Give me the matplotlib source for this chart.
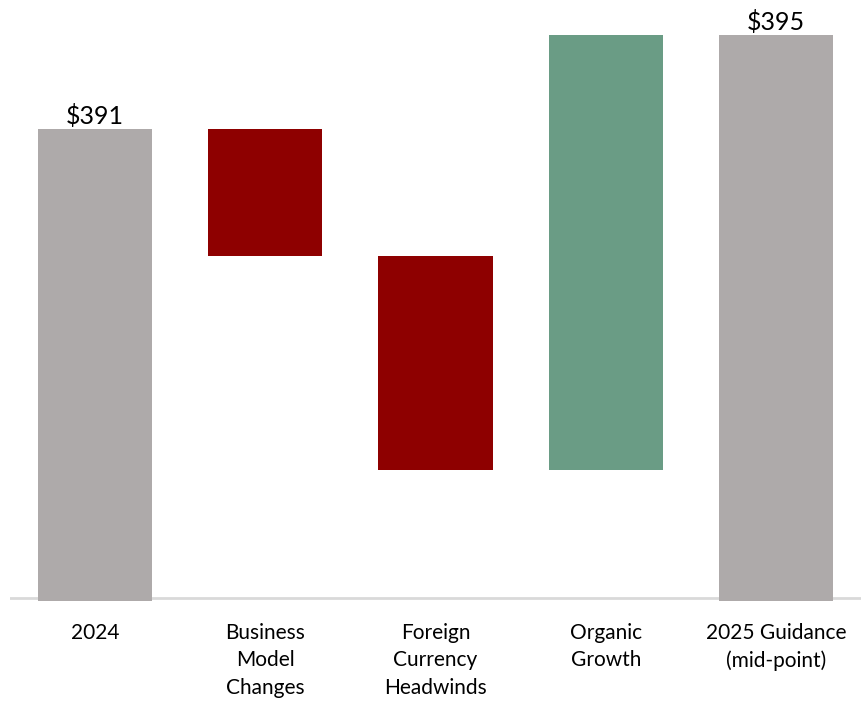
import matplotlib
matplotlib.use("Agg")
import matplotlib.pyplot as plt

plt.rcParams['font.family'] = ['Lato', 'DejaVu Sans']

categories = ["2024", "Business\nModel\nChanges", "Foreign\nCurrency\nHeadwinds",
              "Organic\nGrowth", "2025 Guidance\n(mid-point)"]
start_value = 391.0
changes = [-5.4, -9.1, 18.5]
end_value = 395.0
base = 370.9

gray = "#AEAAAA"
red = "#8E0000"
green = "#6A9C85"

fig = plt.figure(figsize=(8.61, 7.05), dpi=100)
ax = fig.add_axes([10 / 861, 104 / 705, 851 / 861, 601 / 705])

# totals
ax.bar(0, start_value - base, bottom=base, width=0.67, color=gray, zorder=2)
ax.bar(4, end_value - base, bottom=base, width=0.67, color=gray, zorder=2)

# steps
level = start_value
for i, c in enumerate(changes, start=1):
    lo = min(level, level + c)
    ax.bar(i, abs(c), bottom=lo, width=0.67, color=green if c > 0 else red, zorder=2)
    level += c

ax.text(0, start_value + 0.05, "$%d" % start_value, ha='center', va='bottom', fontsize=18)
ax.text(4, end_value + 0.05, "$%d" % end_value, ha='center', va='bottom', fontsize=18)

ax.axhline(base + 0.12, color="#D9D9D9", lw=2, zorder=1)

ax.set_xlim(-0.5, 4.5)
ax.set_ylim(base, 396.5)
ax.set_xticks(range(5))
ax.set_xticklabels(categories, fontsize=15, linespacing=1.45)
ax.tick_params(axis='x', length=0, pad=16)
ax.set_yticks([])
for s in ax.spines.values():
    s.set_visible(False)

fig.savefig("out.png", dpi=100)
